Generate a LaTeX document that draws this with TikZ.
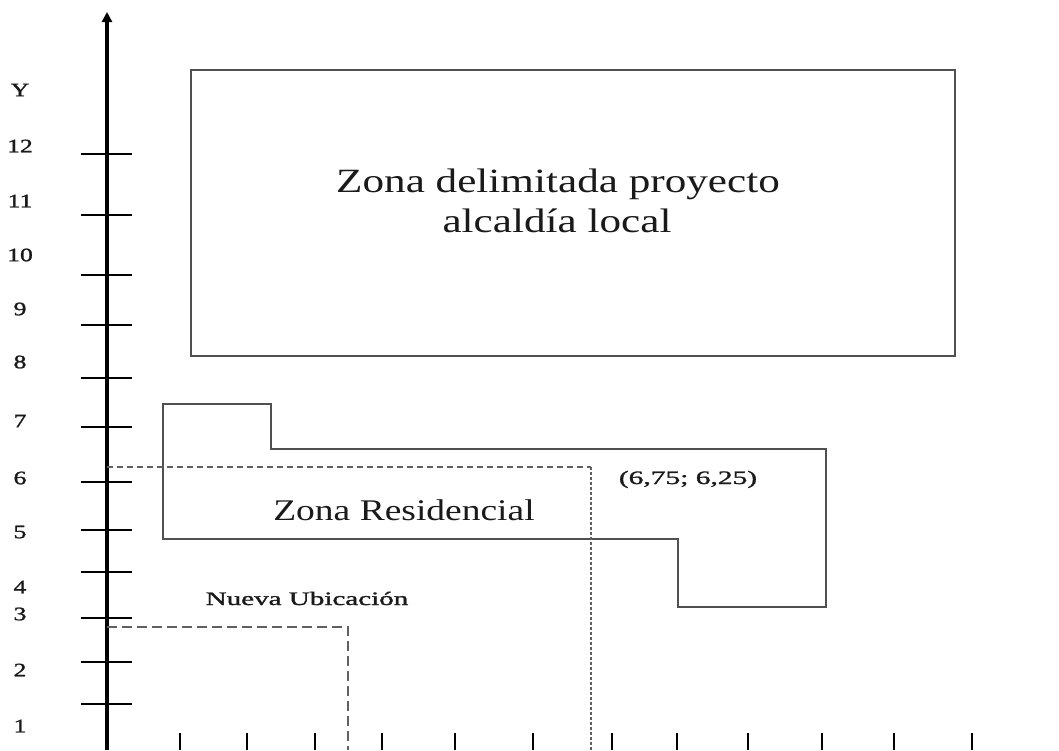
\documentclass[tikz,border=0pt]{standalone}
\usepackage{fontspec}
\setmainfont{Liberation Serif}
\newfontfamily\heavyserif[FakeBold=1.2]{Liberation Serif}
\usetikzlibrary{arrows.meta}
\definecolor{ink}{HTML}{1A1A1A}
\definecolor{linegray}{HTML}{505050}
\definecolor{dashgray}{HTML}{606060}
\tikzset{
  axisline/.style={line width=3.2pt, black},
  tickline/.style={line width=2.8pt, black},
  zoneline/.style={line width=2.3pt, linegray},
  dashline/.style={line width=2pt, dashgray, dash pattern=on 6pt off 4pt},
  dotline/.style={line width=2.4pt, dashgray, dash pattern=on 3pt off 2pt},
  longdash/.style={line width=2pt, dashgray, dash pattern=on 10pt off 5pt},
  numlbl/.style={text=ink, inner sep=0pt, font=\heavyserif\fontsize{19}{19}\selectfont},
  biglbl/.style={text=ink, inner sep=0pt, anchor=base, font=\fontsize{34}{36}\selectfont},
  midlbl/.style={text=ink, inner sep=0pt, anchor=base, font=\fontsize{30}{30}\selectfont},
  smalllbl/.style={text=ink, inner sep=0pt, anchor=base, font=\heavyserif\fontsize{19}{19}\selectfont}
}
\begin{document}
\begin{tikzpicture}[x=1pt,y=-1pt]
\useasboundingbox (0,0) rectangle (1059,750);
\fill[white] (0,0) rectangle (1059,750);
% axis
\coordinate (axbot) at (107,750);
\coordinate (axtop) at (107,12);
\draw[axisline,-{Triangle[length=10pt,width=10pt]}] (axbot) -- (axtop);
\foreach \y in {154,215,275,325,378,427,482,530,572,618,662,704}
  \draw[tickline] (81,\y) -- (132,\y);
\foreach \x in {180,247,315,382,455,533,612,677,748,822,894,972}
  \draw[tickline] (\x,733) -- (\x,750);
% axis labels
\node[numlbl] (lY) at (20,90) {\scalebox{1.35}[1]{Y}};
\foreach \n/\y in {12/146,11/201,10/255,9/309,8/362,7/421,6/478,5/532,4/587,3/614,2/670,1/726}
  \node[numlbl] (l\n) at (20,\y) {\scalebox{1.35}[1]{\n}};
% top zone
\draw[zoneline, line width=1.9pt] (191,70) rectangle (955,356);
\node[biglbl] (ztop1) at (558,192) {\scalebox{1.27}[1]{Zona delimitada proyecto}};
\node[biglbl] (ztop2) at (557,232) {\scalebox{1.27}[1]{alcaldía local}};
% residential zone
\draw[zoneline] (163,404) -- (271,404) -- (271,449) -- (826,449) -- (826,607)
  -- (678,607) -- (678,539) -- (163,539) -- cycle;
\node[midlbl] (zres) at (404,520) {\scalebox{1.25}[1]{Zona Residencial}};
% dashed references
\coordinate (d1a) at (107,467);
\coordinate (d1b) at (591,467);
\coordinate (d1c) at (591,750);
\draw[dashline] (d1a) -- (d1b);
\draw[dotline] (d1b) -- (d1c);
\coordinate (d2a) at (107,627);
\coordinate (d2b) at (348,627);
\coordinate (d2c) at (348,750);
\draw[longdash] (d2a) -- (d2b) -- (d2c);
\node[smalllbl] (coord) at (688,484) {\scalebox{1.55}[1]{(6,75; 6,25)}};
\node[smalllbl] (nueva) at (307,605) {\scalebox{1.53}[1]{Nueva Ubicación}};
\end{tikzpicture}
\end{document}
